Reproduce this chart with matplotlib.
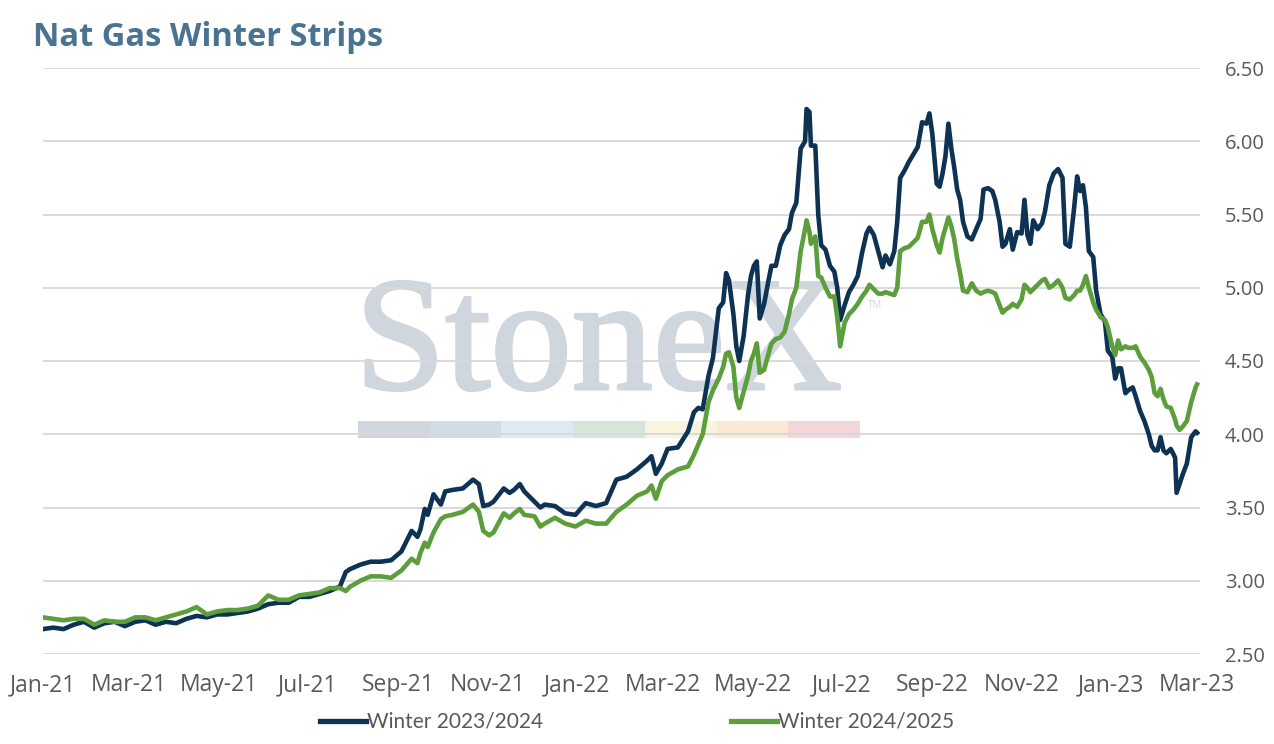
import pandas as pd
import matplotlib
matplotlib.use("Agg")
import matplotlib.pyplot as plt
import matplotlib.dates as mdates
import matplotlib.patheffects as pe
from matplotlib.patches import Rectangle
from matplotlib.lines import Line2D

# data
dates = [
    "2021-01-01", "2021-01-08", "2021-01-15", "2021-01-22", "2021-01-29", "2021-02-05",
    "2021-02-12", "2021-02-19", "2021-02-26", "2021-03-05", "2021-03-12", "2021-03-19",
    "2021-03-26", "2021-04-02", "2021-04-09", "2021-04-16", "2021-04-23", "2021-04-30",
    "2021-05-07", "2021-05-14", "2021-05-21", "2021-05-28", "2021-06-04", "2021-06-11",
    "2021-06-18", "2021-06-25", "2021-07-02", "2021-07-09", "2021-07-16", "2021-07-23",
    "2021-07-27", "2021-07-30", "2021-08-06", "2021-08-13", "2021-08-20", "2021-08-27",
    "2021-09-03", "2021-09-10", "2021-09-14", "2021-09-16", "2021-09-19", "2021-09-21",
    "2021-09-25", "2021-09-30", "2021-10-03", "2021-10-08", "2021-10-15", "2021-10-22",
    "2021-10-26", "2021-10-29", "2021-11-02", "2021-11-05", "2021-11-12", "2021-11-16",
    "2021-11-19", "2021-11-23", "2021-11-26", "2021-12-03", "2021-12-07", "2021-12-10",
    "2021-12-17", "2021-12-24", "2021-12-31", "2022-01-07", "2022-01-14", "2022-01-21",
    "2022-01-28", "2022-02-04", "2022-02-11", "2022-02-18", "2022-02-21", "2022-02-24",
    "2022-02-28", "2022-03-04", "2022-03-11", "2022-03-18", "2022-03-22", "2022-03-25",
    "2022-03-28", "2022-04-01", "2022-04-04", "2022-04-08", "2022-04-11", "2022-04-13",
    "2022-04-15", "2022-04-18", "2022-04-20", "2022-04-22", "2022-04-25", "2022-04-28",
    "2022-04-30", "2022-05-02", "2022-05-04", "2022-05-06", "2022-05-09", "2022-05-12",
    "2022-05-14", "2022-05-17", "2022-05-20", "2022-05-23", "2022-05-26", "2022-05-28",
    "2022-05-31", "2022-06-03", "2022-06-06", "2022-06-07", "2022-06-09", "2022-06-10",
    "2022-06-13", "2022-06-15", "2022-06-17", "2022-06-20", "2022-06-23", "2022-06-26",
    "2022-06-28", "2022-06-30", "2022-07-03", "2022-07-06", "2022-07-09", "2022-07-12",
    "2022-07-15", "2022-07-18", "2022-07-20", "2022-07-23", "2022-07-26", "2022-07-29",
    "2022-07-31", "2022-08-03", "2022-08-06", "2022-08-08", "2022-08-10", "2022-08-13",
    "2022-08-16", "2022-08-19", "2022-08-22", "2022-08-25", "2022-08-28", "2022-08-30",
    "2022-09-01", "2022-09-04", "2022-09-06", "2022-09-08", "2022-09-10", "2022-09-12",
    "2022-09-14", "2022-09-16", "2022-09-18", "2022-09-20", "2022-09-22", "2022-09-25",
    "2022-09-28", "2022-10-01", "2022-10-04", "2022-10-06", "2022-10-09", "2022-10-12",
    "2022-10-14", "2022-10-17", "2022-10-19", "2022-10-21", "2022-10-24", "2022-10-26",
    "2022-10-29", "2022-11-01", "2022-11-03", "2022-11-05", "2022-11-07", "2022-11-09",
    "2022-11-12", "2022-11-15", "2022-11-17", "2022-11-20", "2022-11-23", "2022-11-26",
    "2022-11-29", "2022-12-01", "2022-12-04", "2022-12-07", "2022-12-09", "2022-12-11",
    "2022-12-13", "2022-12-15", "2022-12-17", "2022-12-20", "2022-12-22", "2022-12-25",
    "2022-12-28", "2022-12-30", "2023-01-02", "2023-01-04", "2023-01-06", "2023-01-08",
    "2023-01-11", "2023-01-13", "2023-01-16", "2023-01-18", "2023-01-21", "2023-01-24",
    "2023-01-27", "2023-01-29", "2023-01-31", "2023-02-02", "2023-02-04", "2023-02-06",
    "2023-02-08", "2023-02-11", "2023-02-14", "2023-02-15", "2023-02-17", "2023-02-19",
    "2023-02-22", "2023-02-25", "2023-02-28", "2023-03-01",
]

winter_23_24 = [
    2.67, 2.68, 2.67, 2.70, 2.72, 2.68, 2.71, 2.72, 2.69, 2.72, 2.73, 2.70,
    2.72, 2.71, 2.74, 2.76, 2.75, 2.77, 2.77, 2.78, 2.79, 2.81, 2.84, 2.85,
    2.85, 2.89, 2.89, 2.91, 2.93, 2.96, 3.06, 3.08, 3.11, 3.13, 3.13, 3.14,
    3.20, 3.34, 3.30, 3.35, 3.49, 3.45, 3.59, 3.52, 3.61, 3.62, 3.63, 3.69,
    3.66, 3.51, 3.52, 3.54, 3.63, 3.60, 3.62, 3.66, 3.61, 3.54, 3.50, 3.52,
    3.51, 3.46, 3.45, 3.53, 3.51, 3.53, 3.69, 3.71, 3.76, 3.82, 3.85, 3.73,
    3.80, 3.90, 3.91, 4.02, 4.15, 4.18, 4.17, 4.40, 4.52, 4.86, 4.90, 5.10,
    5.05, 4.82, 4.60, 4.50, 4.67, 4.95, 5.08, 5.15, 5.18, 4.79, 4.89, 5.05,
    5.15, 5.15, 5.29, 5.36, 5.40, 5.51, 5.58, 5.95, 6.00, 6.22, 6.20, 5.97,
    5.97, 5.50, 5.29, 5.26, 5.15, 5.11, 5.00, 4.78, 4.88, 4.97, 5.02, 5.08,
    5.24, 5.37, 5.41, 5.36, 5.25, 5.14, 5.22, 5.16, 5.25, 5.45, 5.75, 5.80,
    5.86, 5.91, 5.96, 6.13, 6.12, 6.19, 6.05, 5.71, 5.69, 5.78, 5.90, 6.12,
    5.95, 5.82, 5.67, 5.60, 5.45, 5.35, 5.33, 5.40, 5.47, 5.67, 5.68, 5.66,
    5.60, 5.45, 5.28, 5.30, 5.40, 5.26, 5.38, 5.37, 5.60, 5.36, 5.30, 5.46,
    5.40, 5.44, 5.52, 5.70, 5.78, 5.81, 5.75, 5.30, 5.28, 5.55, 5.76, 5.66,
    5.70, 5.55, 5.25, 5.21, 4.98, 4.82, 4.77, 4.57, 4.53, 4.38, 4.45, 4.45,
    4.28, 4.30, 4.32, 4.26, 4.16, 4.09, 4.00, 3.92, 3.89, 3.89, 3.98, 3.89,
    3.87, 3.90, 3.84, 3.60, 3.66, 3.72, 3.80, 3.98, 4.02, 4.01,
]

winter_24_25 = [
    2.75, 2.74, 2.73, 2.74, 2.74, 2.70, 2.73, 2.72, 2.72, 2.75, 2.75, 2.73,
    2.75, 2.77, 2.79, 2.82, 2.77, 2.79, 2.80, 2.80, 2.81, 2.83, 2.90, 2.87,
    2.87, 2.90, 2.91, 2.92, 2.95, 2.95, 2.93, 2.96, 3.00, 3.03, 3.03, 3.02,
    3.07, 3.15, 3.12, 3.19, 3.26, 3.23, 3.33, 3.42, 3.44, 3.45, 3.47, 3.52,
    3.47, 3.34, 3.31, 3.33, 3.46, 3.43, 3.46, 3.49, 3.45, 3.44, 3.37, 3.39,
    3.43, 3.39, 3.37, 3.41, 3.39, 3.39, 3.47, 3.52, 3.58, 3.61, 3.65, 3.56,
    3.68, 3.72, 3.76, 3.78, 3.86, 3.93, 4.00, 4.22, 4.30, 4.38, 4.46, 4.55,
    4.56, 4.46, 4.25, 4.18, 4.29, 4.40, 4.50, 4.55, 4.62, 4.42, 4.44, 4.55,
    4.62, 4.65, 4.66, 4.70, 4.82, 4.92, 5.00, 5.25, 5.40, 5.46, 5.38, 5.30,
    5.35, 5.08, 5.07, 5.00, 4.94, 4.94, 4.80, 4.60, 4.76, 4.82, 4.85, 4.89,
    4.94, 4.98, 5.02, 4.99, 4.96, 4.96, 4.97, 4.96, 4.95, 5.00, 5.25, 5.27,
    5.28, 5.31, 5.34, 5.45, 5.45, 5.50, 5.40, 5.29, 5.24, 5.34, 5.41, 5.48,
    5.42, 5.33, 5.20, 5.10, 4.98, 4.97, 5.03, 4.98, 4.96, 4.97, 4.98, 4.97,
    4.96, 4.88, 4.83, 4.85, 4.87, 4.89, 4.87, 4.92, 5.02, 5.00, 4.97, 4.99,
    5.02, 5.05, 5.06, 5.00, 5.02, 5.05, 5.00, 4.93, 4.92, 4.95, 4.98, 4.98,
    5.02, 5.08, 5.00, 4.90, 4.85, 4.80, 4.78, 4.73, 4.60, 4.54, 4.64, 4.58,
    4.60, 4.59, 4.59, 4.60, 4.53, 4.49, 4.44, 4.39, 4.28, 4.26, 4.31, 4.24,
    4.19, 4.18, 4.10, 4.06, 4.03, 4.05, 4.09, 4.22, 4.32, 4.34,
]

series_labels = ["Winter 2023/2024", "Winter 2024/2025"]
y_ticks = [2.5, 3.0, 3.5, 4.0, 4.5, 5.0, 5.5, 6.0, 6.5]

navy = "#0e3254"
green = "#5c9e3c"
grey_text = "#595959"
grid_col = "#d9d9d9"
mark_col = "#cfd6de"

plt.rcParams["font.family"] = ["Open Sans", "DejaVu Sans"]

x = pd.to_datetime(dates)

fig = plt.figure(figsize=(12.74, 7.44), dpi=100)
ax = fig.add_axes([43 / 1274, 1 - 654 / 744, (1200 - 43) / 1274, (654 - 68) / 744])

ax.plot(x, winter_23_24, color=navy, lw=3.3, zorder=3, solid_joinstyle="round")
ax.plot(x, winter_24_25, color=green, lw=3.3, zorder=3, solid_joinstyle="round")

ax.set_xlim(pd.Timestamp("2021-01-01"), pd.Timestamp("2023-03-03"))
ax.set_ylim(2.5, 6.5)
ax.set_yticks(y_ticks)
ax.yaxis.tick_right()
ax.yaxis.set_major_formatter(matplotlib.ticker.FormatStrFormatter("%.2f"))
ax.xaxis.set_major_locator(mdates.MonthLocator(bymonth=[1, 3, 5, 7, 9, 11]))
ax.xaxis.set_major_formatter(mdates.DateFormatter("%b-%y"))
ax.tick_params(axis="both", length=0, colors=grey_text)
ax.tick_params(axis="x", pad=14, labelsize=16.5)
ax.tick_params(axis="y", pad=18, labelsize=14.5)

for sp in ax.spines.values():
    sp.set_visible(False)
ax.set_axisbelow(True)
ax.grid(axis="y", color=grid_col, lw=1.4)
ax.patch.set_alpha(0)

# watermark
ax.text(355 / 1274, 1 - 389 / 744, "StoneX", transform=fig.transFigure,
        family=["Liberation Serif", "DejaVu Serif"], fontsize=117,
        color=mark_col, ha="left", va="baseline", zorder=0.1,
        path_effects=[pe.withStroke(linewidth=2.2, foreground=mark_col)])
ax.text(868 / 1274, 1 - 308 / 744, "TM", transform=fig.transFigure,
        fontsize=7, color=mark_col, ha="left", va="baseline", zorder=0.1)
bar_cols = ["#d0d6dd", "#d2dce6", "#ddeaf3", "#d6e5da", "#f8f4dd", "#f9e9d5", "#f2d6d9"]
seg_w = (860 - 358) / 7
for i, c in enumerate(bar_cols):
    ax.add_patch(Rectangle(((358 + i * seg_w) / 1274, 1 - 438 / 744), seg_w / 1274, 17 / 744,
                           transform=fig.transFigure, color=c, lw=0, zorder=0.1, clip_on=False))

fig.text(33 / 1274, 1 - 46 / 744, "Nat Gas Winter Strips", fontsize=23.5, fontweight="bold",
         color="#4a7391", ha="left", va="baseline")

handles = [Line2D([], [], color=navy, lw=3.8), Line2D([], [], color=green, lw=3.8)]
fig.legend(handles, series_labels, loc="center", bbox_to_anchor=(0.5, 1 - 722 / 744), ncol=2,
           frameon=False, handlelength=2.2, handletextpad=0.05, columnspacing=9.0,
           labelcolor=grey_text, prop={"family": ["Lato", "DejaVu Sans"], "size": 15})

fig.savefig("out.png", dpi=100)
